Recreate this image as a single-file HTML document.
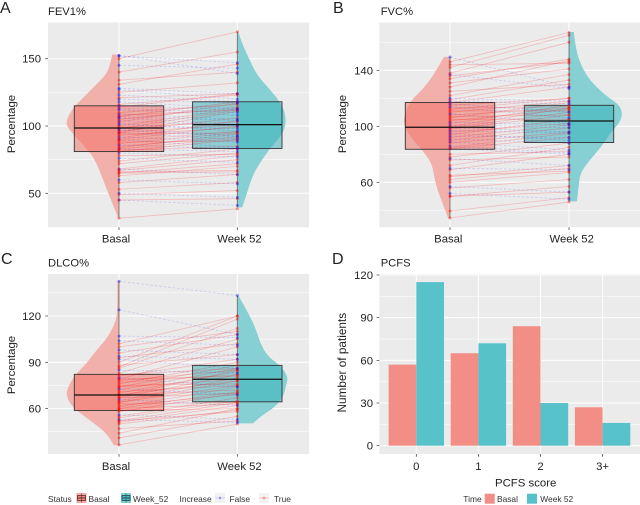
<!DOCTYPE html>
<html lang="en">
<head>
<meta charset="utf-8">
<title>Lung function and PCFS charts</title>
<style>
html,body{margin:0;padding:0;background:#fff;width:640px;height:505px;overflow:hidden}
svg{display:block;font-family:"Liberation Sans",sans-serif;filter:blur(0.3px)}
text{fill:#222}
.tick{font-size:11.3px}
.title{font-size:11.2px}
.axt{font-size:11.4px}
.leg{font-size:8.4px;fill:#333}
.letter{font-size:16px}
</style>
</head>
<body>
<svg id="figure" width="640" height="505" viewBox="0 0 640 505" xmlns="http://www.w3.org/2000/svg">
  <text class="letter" x="0" y="13">A</text>
  <text class="letter" x="333" y="13">B</text>
  <text class="letter" x="1" y="264">C</text>
  <text class="letter" x="332" y="264">D</text>

  <text class="title" x="48" y="15">FEV1%</text>
  <text class="title" x="380.7" y="15">FVC%</text>
  <text class="title" x="48" y="266.7">DLCO%</text>
  <text class="title" x="380.7" y="266.7">PCFS</text>

  <text class="axt" transform="translate(15,124) rotate(-90)" text-anchor="middle">Percentage</text>
  <text class="axt" transform="translate(346,124) rotate(-90)" text-anchor="middle">Percentage</text>
  <text class="axt" transform="translate(15,365) rotate(-90)" text-anchor="middle">Percentage</text>
  <text class="axt" transform="translate(346,362.7) rotate(-90)" text-anchor="middle" style="font-size:11.8px">Number of patients</text>
  <text class="axt" x="525.7" y="486.7" text-anchor="middle">PCFS score</text>

  <g id="panels"></g>

  <g>
    <text class="leg" x="48" y="502">Status</text>
    <g>
      <rect x="76.5" y="493" width="10" height="10" fill="#f4a9a3"/>
      <rect x="77.5" y="495.5" width="8" height="5" fill="#f08a82" stroke="#5a2a2a" stroke-width="0.8"/>
      <line x1="77.5" y1="498" x2="85.5" y2="498" stroke="#5a2a2a" stroke-width="0.9"/>
      <line x1="81.5" y1="493.5" x2="81.5" y2="502.5" stroke="#5a2a2a" stroke-width="0.6"/>
      <text class="leg" x="88.5" y="502">Basal</text>
    </g>
    <g>
      <rect x="121" y="493" width="10" height="10" fill="#7fd0d3"/>
      <rect x="122" y="495.5" width="8" height="5" fill="#48bcc2" stroke="#1f4a4c" stroke-width="0.8"/>
      <line x1="122" y1="498" x2="130" y2="498" stroke="#1f4a4c" stroke-width="0.9"/>
      <line x1="126" y1="493.5" x2="126" y2="502.5" stroke="#1f4a4c" stroke-width="0.6"/>
      <text class="leg" x="133" y="502">Week_52</text>
    </g>
    <text class="leg" x="179.5" y="502">Increase</text>
    <g>
      <rect x="215" y="493" width="10" height="10" fill="#f2f2f2"/>
      <line x1="215.5" y1="498" x2="224.5" y2="498" stroke="#0000ff" stroke-opacity="0.2" stroke-dasharray="2 1.5"/>
      <circle cx="220" cy="498" r="1.4" fill="#0000ff" fill-opacity="0.3"/>
      <text class="leg" x="229.5" y="502">False</text>
    </g>
    <g>
      <rect x="259" y="493" width="10" height="10" fill="#f2f2f2"/>
      <line x1="259.5" y1="498" x2="268.5" y2="498" stroke="#ff0000" stroke-opacity="0.2"/>
      <circle cx="264" cy="498" r="1.4" fill="#ff0000" fill-opacity="0.3"/>
      <text class="leg" x="274" y="502">True</text>
    </g>
  </g>

  <g>
    <text class="leg" x="463.3" y="502">Time</text>
    <rect x="484.7" y="493.7" width="10" height="10" fill="#f28e86"/>
    <text class="leg" x="497" y="502">Basal</text>
    <rect x="527" y="493.7" width="10" height="10" fill="#58c2cb"/>
    <text class="leg" x="540.3" y="502">Week 52</text>
  </g>
</svg>
<script>
// ---------- Data: paired patient values ----------
const fevBasal = [31.5,45,45,49,50,53,58,60,63,65,65,66,67,68,68,72,74,76,78,80,81,82,83,83,84,85,86,87,88,89,90,90,91,92,93,94,95,95,95,96,97,98,98,99,100,101,102,103,104,105,106,107,107,108,109,110,112,113,114,115,116,118,120,121,123,125,127,128,131,134,140,145,150,152,152.5];
const fevWeek = [38.5,41,46,52,47,58,64,57,70,72,66,67,75,64,78,80,83,73,79,77,90,85,81,91,94,92,83,95,89,96,84,100,104,88,99,95,90,111,101,106,92,112,93,103,113,98,96,117,100,114,101,118,104,112,105,116,108,110,124,112,123,113,117,124,118,132,120,124,146,140,155,143,170,147,139];
const fvcBasal = [34.5,39.5,50,50,52,56,57,60,62,64,65,69,70,72,76,77,78,80,84,84,85,86,88,89,90,91,92,93,94,95,96,97,98,99,99,100,101,102,103,104,105,106,107,108,109,110,111,112,113,114,115,116,117,118,119,120,122,125,128,131,134,137,138,142,146,149.5,144,136];
const fvcWeek = [46,49,53,57,48,62,53,67,70,72,68,80,69,85,78,72,88,82,80,92,95,81,96,83,99,88,101,92,105,90,102,95,108,96,110,113,99,115,101,112,105,117,108,113,102,118,111,120,114,106,120,110,128,116,133,118,137,130,147,141,148,127,160,165,167,128,145,146];
const dlcoBasal = [36.5,41,44,47,50,51,52,52,53,54,55,56,58,59,60,60,61,62,63,64,64,65,66,67,67,68,69,69,70,71,72,73,74,74,75,76,77,78,79,79,80,81,82,83,85,86,87,88,90,92,93,94,96,98,100,102,104,107,124,142.5];
const dlcoWeek = [50,55,60,52,59,62,58,64,51,65,67,53,70,60,71,63,74,69,64,78,75,80,62,82,70,85,72,78,84,75,86,69,88,79,76,90,82,85,81,100,74,92,86,105,83,112,118,95,120,86,102,92,108,95,110,120,101,106,108,133.3];

// ---------- Data: violin density outlines (value level, relative density) ----------
const fevBasalLevels = [153,148,140,135,130,122,115,108,102,98,92,86,81,75,69,60,50,42,35,32];
const fevBasalDensity = [.13,.15,.22,.32,.45,.65,.83,.95,1,.95,.82,.68,.56,.46,.39,.3,.2,.12,.05,.02];
const fevWeekLevels = [170,162,150,137.5,127.6,117.8,110,101,93,83.5,68,58.7,49,39.5];
const fevWeekDensity = [.02,.09,.24,.41,.66,.88,.98,1,.91,.67,.38,.27,.19,.1];
const fvcBasalLevels = [149.6,140,128,117.6,109,103,95,83.6,73.7,64,54.7,45,34.5];
const fvcBasalDensity = [.13,.29,.54,.86,.96,1,.91,.61,.39,.34,.27,.16,.04];
const fvcWeekLevels = [167.4,154,142.5,133,123.5,117.5,114,109,103,95,85.5,76,66.5,57,46.4];
const fvcWeekDensity = [.09,.13,.24,.39,.64,.86,.96,1,.96,.77,.61,.39,.21,.18,.15];
const dlcoBasalLevels = [142.5,124,116.4,106.7,98,88.3,81.8,74.2,68.8,61.2,54.7,46,40.6,36.3];
const dlcoBasalDensity = [.03,.03,.06,.2,.42,.64,.83,.96,1,.89,.64,.3,.17,.1];
const dlcoWeekLevels = [133.3,124,113,102.3,93.7,88,80.7,74,67.7,61,54.7,50.4];
const dlcoWeekDensity = [.02,.18,.35,.45,.6,.84,1,.95,.9,.74,.45,.31];

// ---------- Data: box statistics [q1, median, q3] ----------
const fevBasalBox = [81,98.5,115];
const fevWeekBox = [83.3,101,118];
const fvcBasalBox = [83.6,99.3,117];
const fvcWeekBox = [88.4,103.8,115];
const dlcoBasalBox = [58.8,68.8,82.2];
const dlcoWeekBox = [64.4,79,88];

// ---------- Data: axis ticks ----------
const groupLabels = ["Basal","Week 52"];
const fevMajorTicks = [50,100,150];
const fevMinorTicks = [75,125];
const fvcMajorTicks = [60,100,140];
const fvcMinorTicks = [40,80,120,160];
const dlcoMajorTicks = [60,90,120];
const dlcoMinorTicks = [45,75,105,135];

// ---------- Data: PCFS bars ----------
const pcfsCategories = ["0","1","2","3+"];
const pcfsBasal = [57,65,84,27];
const pcfsWeek = [115,72,30,16];
const pcfsMajorTicks = [0,30,60,90,120];
const pcfsMinorTicks = [15,45,75,105];

const NS = "http://www.w3.org/2000/svg";
const root = document.getElementById("panels");

function mk(parent, tag, attrs, txt) {
  const el = document.createElementNS(NS, tag);
  for (const k in attrs) el.setAttribute(k, attrs[k]);
  if (txt !== undefined) el.textContent = txt;
  parent.appendChild(el);
  return el;
}
function linear(d0, d1, r0, r1) {
  return v => r0 + (v - d0) * (r1 - r0) / (d1 - d0);
}
function drawFrame(g, f, y, major, minor, catXs, tickRight) {
  const bg = mk(g, "rect", {x:f.x, y:f.y, width:f.w, height:f.h, fill:"#ebebeb"});
  
  
  minor.forEach(v => {
    const l = mk(g, "line", {x1:f.x, x2:f.x+f.w, y1:y(v), y2:y(v), stroke:"#fff", "stroke-width":0.5});
    
    
  });
  major.forEach(v => {
    const l = mk(g, "line", {x1:f.x, x2:f.x+f.w, y1:y(v), y2:y(v), stroke:"#fff", "stroke-width":1});
    
    
    const t = mk(g, "line", {x1:f.x-2.7, x2:f.x, y1:y(v), y2:y(v), stroke:"#333", "stroke-width":0.7});
    
    
    const lab = mk(g, "text", {x:tickRight, y:y(v)+4, "text-anchor":"end", class:"tick"}, String(v));
    
    
  });
  catXs.forEach(x => {
    const l = mk(g, "line", {x1:x, x2:x, y1:f.y, y2:f.y+f.h, stroke:"#fff", "stroke-width":1});
    
    
    const t = mk(g, "line", {x1:x, x2:x, y1:f.y+f.h, y2:f.y+f.h+2.7, stroke:"#333", "stroke-width":0.7});
    
    
  });
}
function drawViolin(g, y, levels, density, x, side, maxW, color, name) {
  const px = i => x + side * density[i] * maxW;
  const n = levels.length;
  let d = "M" + x + " " + y(levels[0]) + "L" + px(0) + " " + y(levels[0]);
  for (let i = 1; i < n - 1; i++) {
    const mx = (px(i) + px(i+1)) / 2;
    const my = (y(levels[i]) + y(levels[i+1])) / 2;
    d += "Q" + px(i) + " " + y(levels[i]) + " " + mx + " " + my;
  }
  d += "L" + px(n-1) + " " + y(levels[n-1]) + "L" + x + " " + y(levels[n-1]) + "Z";
  const p = mk(g, "path", {d:d, fill:color});
  
  
  const e = mk(g, "line", {x1:x, x2:x, y1:y(levels[0]), y2:y(levels[n-1]), stroke:"#555", "stroke-width":0.9, "stroke-opacity":0.8});
  
  
}
function drawBox(g, y, stats, x0, x1, color, name) {
  const r = mk(g, "rect", {x:x0, y:y(stats[2]), width:x1-x0, height:y(stats[0])-y(stats[2]), fill:color, "fill-opacity":0.5, stroke:"#333", "stroke-width":0.9});
  
  
}
function drawMedian(g, y, stats, x0, x1, name) {
  const m = mk(g, "line", {x1:x0, x2:x1, y1:y(stats[1]), y2:y(stats[1]), stroke:"#111", "stroke-width":1.3});
  
  
}
function drawPairs(g, y, a, b, xa, xb) {
  a.forEach((v, i) => {
    const up = b[i] >= v;
    const l = mk(g, "line", {x1:xa, x2:xb, y1:y(v), y2:y(b[i]),
      stroke: up ? "#ff0000" : "#0000ff", "stroke-opacity": up ? 0.2 : 0.15, "stroke-width":0.85,
      "stroke-dasharray": up ? "none" : "2.5 2"});
    
    
  });
  a.forEach((v, i) => {
    const up = b[i] >= v;
    const col = up ? "#ff0000" : "#0000ff";
    const p1 = mk(g, "circle", {cx:xa, cy:y(v), r:1.5, fill:col, "fill-opacity":0.4});
    
    
    const p2 = mk(g, "circle", {cx:xb, cy:y(b[i]), r:1.5, fill:col, "fill-opacity":0.4});
    
    
  });
}
function drawViolinPanel(o) {
  const g = mk(root, "g", {});
  
  
  const y = linear(o.v0, o.v1, o.p0, o.p1);
  const xa = o.xa, xb = o.xb, half = 44.7;
  drawFrame(g, o.frame, y, o.major, o.minor, [xa, xb], o.tickRight);
  drawViolin(g, y, o.aLevels, o.aDensity, xa, -1, o.aMax, "#f2b0aa", o.name + "-violin-basal");
  drawViolin(g, y, o.bLevels, o.bDensity, xb, 1, o.bMax, "#86cfd2", o.name + "-violin-week-52");
  drawBox(g, y, o.aBox, xa-half, xa+half, "#f26c60", o.name + "-box-basal");
  drawBox(g, y, o.bBox, xb-half, xb+half, "#30afba", o.name + "-box-week-52");
  drawPairs(g, y, o.a, o.b, xa, xb);
  drawMedian(g, y, o.aBox, xa-half, xa+half, o.name + "-median-basal");
  drawMedian(g, y, o.bBox, xb-half, xb+half, o.name + "-median-week-52");
  groupLabels.forEach((t, i) => {
    const lab = mk(g, "text", {x:o.labelX[i], y:o.labelY, "text-anchor":"middle", class:"tick"}, t);
    
    
  });
}

drawViolinPanel({name:"fev1", frame:{x:48,y:22.5,w:261,h:204.8}, v0:100,v1:150,p0:126,p1:58.7,
  major:fevMajorTicks, minor:fevMinorTicks, xa:119, xb:237.3, tickRight:41, labelX:[116,239.5], labelY:242.5,
  a:fevBasal, b:fevWeek, aLevels:fevBasalLevels, aDensity:fevBasalDensity, bLevels:fevWeekLevels, bDensity:fevWeekDensity,
  aMax:53, bMax:48.7, aBox:fevBasalBox, bBox:fevWeekBox});
drawViolinPanel({name:"fvc", frame:{x:379.3,y:22.5,w:260.7,h:204.8}, v0:100,v1:140,p0:126.3,p1:70.3,
  major:fvcMajorTicks, minor:fvcMinorTicks, xa:450, xb:569, tickRight:373, labelX:[448.3,571.7], labelY:242.5,
  a:fvcBasal, b:fvcWeek, aLevels:fvcBasalLevels, aDensity:fvcBasalDensity, bLevels:fvcWeekLevels, bDensity:fvcWeekDensity,
  aMax:46.7, bMax:53.3, aBox:fvcBasalBox, bBox:fvcWeekBox});
drawViolinPanel({name:"dlco", frame:{x:48,y:274,w:261,h:180}, v0:90,v1:120,p0:362.3,p1:316,
  major:dlcoMajorTicks, minor:dlcoMinorTicks, xa:119, xb:237.3, tickRight:41, labelX:[116,239.5], labelY:470,
  a:dlcoBasal, b:dlcoWeek, aLevels:dlcoBasalLevels, aDensity:dlcoBasalDensity, bLevels:dlcoWeekLevels, bDensity:dlcoWeekDensity,
  aMax:53, bMax:51, aBox:dlcoBasalBox, bBox:dlcoWeekBox});

// ---------- PCFS bar panel ----------
(function () {
  const g = mk(root, "g", {});
  
  
  const f = {x:379.3, y:274, w:260.7, h:180};
  const y = linear(0, 120, 445.7, 275);
  const x = i => 416.3 + i * 62.1;
  const bw = 27.7;
  drawFrame(g, f, y, pcfsMajorTicks, pcfsMinorTicks, pcfsCategories.map((c, i) => x(i)), 373);
  pcfsCategories.forEach((c, i) => {
    const r1 = mk(g, "rect", {x:x(i)-bw, y:y(pcfsBasal[i]), width:bw, height:y(0)-y(pcfsBasal[i]), fill:"#f28e86"});
    
    
    const r2 = mk(g, "rect", {x:x(i), y:y(pcfsWeek[i]), width:bw, height:y(0)-y(pcfsWeek[i]), fill:"#58c2cb"});
    
    
    const lab = mk(g, "text", {x:x(i), y:470, "text-anchor":"middle", class:"tick"}, c);
    
    
  });
})();
</script>
</body>
</html>
